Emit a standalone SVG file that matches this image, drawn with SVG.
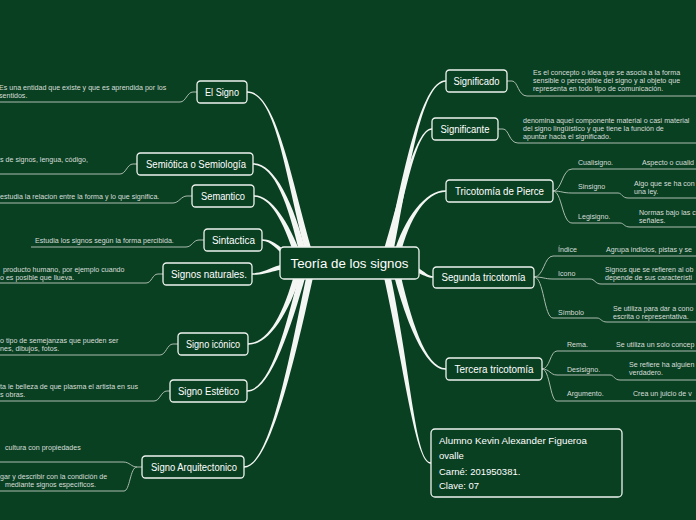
<svg xmlns="http://www.w3.org/2000/svg" width="696" height="520" viewBox="0 0 696 520">
<style>
.bg{fill:#0a4022}
.branch{fill:#f4f6f4}
.sub{fill:none;stroke:#a9bbae;stroke-width:1}
.box{fill:#0a4022;stroke:#eef3ef;stroke-width:1.3}
.lbl{font-family:"Liberation Sans","DejaVu Sans",sans-serif;font-size:10px;fill:#ffffff;text-anchor:middle}
.t{font-family:"Liberation Sans","DejaVu Sans",sans-serif;font-size:7.1px;fill:#d6ded8}
.al{font-family:"Liberation Sans","DejaVu Sans",sans-serif;font-size:9.5px;fill:#ffffff}
</style>
<rect class="bg" x="0" y="0" width="696" height="520"/>
<g id="connectors">
<path class="branch" d="M247,91.3 C278,90.8 293,190 315.5,262 L308.5,262 C287,190 278,93.2 247,92.7 Z"/>
<path class="branch" d="M253,163.3 C275,162.8 295,205 308.5,262 L301.5,262 C289,205 275,165.2 253,164.7 Z"/>
<path class="branch" d="M254,195.3 C272,194.8 291,225 303.5,262 L296.5,262 C285,225 272,197.2 254,196.7 Z"/>
<path class="branch" d="M262,239.3 C275,238.8 282,252 300,257 L300,263 C280,258 275,241.2 262,240.7 Z"/>
<path class="branch" d="M252,273.3 C268,272.8 275,263 300,261 L300,267 C273,269 268,275.2 252,274.7 Z"/>
<path class="branch" d="M248,343.3 C270,342.8 285,310 296.5,266 L303.5,266 C291,310 270,345.2 248,344.7 Z"/>
<path class="branch" d="M247,390.3 C272,389.8 287,320 301.5,266 L308.5,266 C293,320 272,392.2 247,391.7 Z"/>
<path class="branch" d="M244,466.3 C270,465.8 289,360 308.5,266 L315.5,266 C295,360 270,468.2 244,467.7 Z"/>
<path class="branch" d="M446,80.3 C420,79.8 402,180 384.5,262 L391.5,262 C408,180 420,82.2 446,81.7 Z"/>
<path class="branch" d="M432,128.3 C415,127.8 399,200 380.5,262 L387.5,262 C405,200 415,130.2 432,129.7 Z"/>
<path class="branch" d="M446,190.3 C425,189.8 402,220 391.5,262 L398.5,262 C408,220 425,192.2 446,191.7 Z"/>
<path class="branch" d="M433,276.3 C425,275.8 420,264 400,262 L400,268 C418,270 425,278.2 433,277.7 Z"/>
<path class="branch" d="M446,368.3 C425,367.8 411,320 398.5,266 L391.5,266 C405,320 425,370.2 446,369.7 Z"/>
<path class="branch" d="M431,462.3 C415,461.8 411,370 388.5,266 L381.5,266 C405,370 415,464.2 431,463.7 Z"/>
<path class="sub" d="M0,102 H180 C186,102 187,92 193,92 H197"/>
<path class="sub" d="M0,174 H120 C126,174 127,164 133,164 H137"/>
<path class="sub" d="M0,203 H173 C179,203 181,196 187,196 H192"/>
<path class="sub" d="M31,247 H186 C192,247 193,240 199,240 H204"/>
<path class="sub" d="M0,283 H146 C152,283 152,274 158,274 H163"/>
<path class="sub" d="M0,355 H160 C166,355 167,344 173,344 H178"/>
<path class="sub" d="M0,401 H154 C160,401 161,391 167,391 H170"/>
<path class="sub" d="M0,462 H123 C130,462 131,467 137,467 H142"/>
<path class="sub" d="M0,491 H124 C130,491 130,467 137,467"/>
<path class="sub" d="M507,81 H512 C518,81 518,96 527,96 H696"/>
<path class="sub" d="M498,129 H503 C509,129 509,143 518,143 H696"/>
<path class="sub" d="M553,191 C562,191 562,169 572,169 H696"/>
<path class="sub" d="M553,191 C562,191 562,193 572,193 H618 C622,193 622,198 628,198 H696"/>
<path class="sub" d="M553,191 C562,191 562,223 572,223 H620 C624,223 624,227 630,227 H696"/>
<path class="sub" d="M534,277 C544,277 544,256 553,256 H696"/>
<path class="sub" d="M534,277 C544,277 544,279 553,279 H590 C595,279 595,284 601,284 H696"/>
<path class="sub" d="M534,277 C544,277 544,318 553,318 H597 C601,318 601,322 607,322 H696"/>
<path class="sub" d="M542,369 C550,369 550,351 557,351 H696"/>
<path class="sub" d="M542,369 C550,369 550,375 557,375 H610 C614,375 614,380 620,380 H696"/>
<path class="sub" d="M542,369 C550,369 550,401 557,401 H696"/>
</g>
<g id="center"><rect class="box" x="280" y="247" width="139" height="32" rx="4"/><text class="lbl" x="349.5" y="267.5" style="font-size:12.5px" textLength="118" lengthAdjust="spacingAndGlyphs">Teoría de los signos</text></g>
<g id="n-signo"><rect class="box" x="197" y="81" width="50" height="22" rx="3.5"/><text class="lbl" x="222" y="95.5" textLength="34" lengthAdjust="spacingAndGlyphs">El Signo</text>
<text class="t" x="-1" y="89.5">Es una entidad que existe y que es aprendida por los</text><text class="t" x="-1" y="97.5">sentidos.</text></g>
<g id="n-semiotica"><rect class="box" x="137" y="153" width="116" height="22" rx="3.5"/><text class="lbl" x="196" y="167.5" textLength="100" lengthAdjust="spacingAndGlyphs">Semiótica o Semiología</text>
<text class="t" x="0" y="161.5">s de signos, lengua, código,</text></g>
<g id="n-semantico"><rect class="box" x="192" y="185" width="62" height="22" rx="3.5"/><text class="lbl" x="223" y="199.5" textLength="44" lengthAdjust="spacingAndGlyphs">Semantico</text>
<text class="t" x="0" y="198.5">estudia la relacion entre  la forma y lo que significa.</text></g>
<g id="n-sintactica"><rect class="box" x="204" y="229" width="58" height="22" rx="3.5"/><text class="lbl" x="233.5" y="243.5" textLength="43" lengthAdjust="spacingAndGlyphs">Sintactica</text>
<text class="t" x="35" y="242.5">Estudia los signos según la forma percibida.</text></g>
<g id="n-naturales"><rect class="box" x="163" y="263" width="89" height="22" rx="3.5"/><text class="lbl" x="209" y="277.5" textLength="76" lengthAdjust="spacingAndGlyphs">Signos naturales.</text>
<text class="t" x="3" y="271.5">producto humano, por ejemplo cuando</text><text class="t" x="0" y="279.5">o es posible que llueva.</text></g>
<g id="n-iconico"><rect class="box" x="178" y="333" width="70" height="22" rx="3.5"/><text class="lbl" x="213" y="347.5" textLength="54" lengthAdjust="spacingAndGlyphs">Signo icónico</text>
<text class="t" x="0" y="343">o tipo de semejanzas que pueden ser</text><text class="t" x="0" y="351">nes, dibujos, fotos.</text></g>
<g id="n-estetico"><rect class="box" x="170" y="380" width="77" height="22" rx="3.5"/><text class="lbl" x="208.5" y="394.5" textLength="61" lengthAdjust="spacingAndGlyphs">Signo Estético</text>
<text class="t" x="0" y="389">ta le belleza de que plasma el artista en sus</text><text class="t" x="0" y="397">s obras.</text></g>
<g id="n-arquitectonico"><rect class="box" x="142" y="456" width="102" height="22" rx="3.5"/><text class="lbl" x="194" y="470.5" textLength="86" lengthAdjust="spacingAndGlyphs">Signo Arquitectonico</text>
<text class="t" x="5" y="449.5">cultura con propiedades</text><text class="t" x="0" y="478.5">gar y describir con la condición de</text><text class="t" x="5" y="486.5">mediante signos específicos.</text></g>
<g id="n-significado"><rect class="box" x="446" y="70" width="61" height="22" rx="3.5"/><text class="lbl" x="476.5" y="84.5" textLength="46" lengthAdjust="spacingAndGlyphs">Significado</text>
<text class="t" x="533" y="74.5">Es el concepto o idea que se asocia a la forma</text><text class="t" x="533" y="82.5">sensible o perceptible del signo y al objeto que</text><text class="t" x="533" y="90.5">representa en todo tipo de comunicación.</text></g>
<g id="n-significante"><rect class="box" x="432" y="118" width="66" height="22" rx="3.5"/><text class="lbl" x="465" y="132.5" textLength="49" lengthAdjust="spacingAndGlyphs">Significante</text>
<text class="t" x="523" y="123">denomina aquel componente material o casi material</text><text class="t" x="523" y="131">del signo lingüístico y que tiene la función de</text><text class="t" x="523" y="139">apuntar hacia el significado.</text></g>
<g id="n-tricotomia"><rect class="box" x="446" y="180" width="107" height="22" rx="3.5"/><text class="lbl" x="499.5" y="194.5" textLength="89" lengthAdjust="spacingAndGlyphs">Tricotomía de Pierce</text>
<text class="t" x="578" y="164.5">Cualisigno.</text><text class="t" x="642" y="164.5">Aspecto o cualid</text>
<text class="t" x="578" y="188.5">Sinsigno</text><text class="t" x="634" y="185.5">Algo que se ha con</text><text class="t" x="634" y="193.5">una ley.</text>
<text class="t" x="578" y="218.5">Legisigno.</text><text class="t" x="639" y="214.5">Normas bajo las c</text><text class="t" x="639" y="222.5">señales.</text></g>
<g id="n-segunda"><rect class="box" x="433" y="267" width="101" height="21" rx="3.5"/><text class="lbl" x="483.5" y="281" textLength="84" lengthAdjust="spacingAndGlyphs">Segunda tricotomía</text>
<text class="t" x="558" y="251.5">Índice</text><text class="t" x="606" y="251.5">Agrupa indicios, pistas y se</text>
<text class="t" x="558" y="275.5">Icono</text><text class="t" x="605" y="271.5">Signos que se refieren al ob</text><text class="t" x="605" y="279.5">depende de sus característi</text>
<text class="t" x="558" y="314.5">Símbolo</text><text class="t" x="613" y="310.5">Se utiliza para dar a cono</text><text class="t" x="613" y="318.5">escrita o representativa.</text></g>
<g id="n-tercera"><rect class="box" x="446" y="358" width="96" height="22" rx="3.5"/><text class="lbl" x="494" y="372.5" textLength="79" lengthAdjust="spacingAndGlyphs">Tercera tricotomía</text>
<text class="t" x="567" y="346.5">Rema.</text><text class="t" x="616" y="346.5">Se utiliza un solo concep</text>
<text class="t" x="567" y="371.5">Desisigno.</text><text class="t" x="629" y="367">Se refiere ha alguien</text><text class="t" x="629" y="375">verdadero.</text>
<text class="t" x="567" y="395.5">Argumento.</text><text class="t" x="633" y="395.5">Crea un juicio de v</text></g>
<g id="n-alumno"><rect class="box" x="431" y="429" width="191" height="68" rx="4"/>
<text class="al" x="439" y="443.5" textLength="148" lengthAdjust="spacingAndGlyphs">Alumno  Kevin Alexander Figueroa</text><text class="al" x="439" y="458.5">ovalle</text><text class="al" x="439" y="474.5">Carné: 201950381.</text><text class="al" x="439" y="488.5">Clave: 07</text></g>
</svg>
